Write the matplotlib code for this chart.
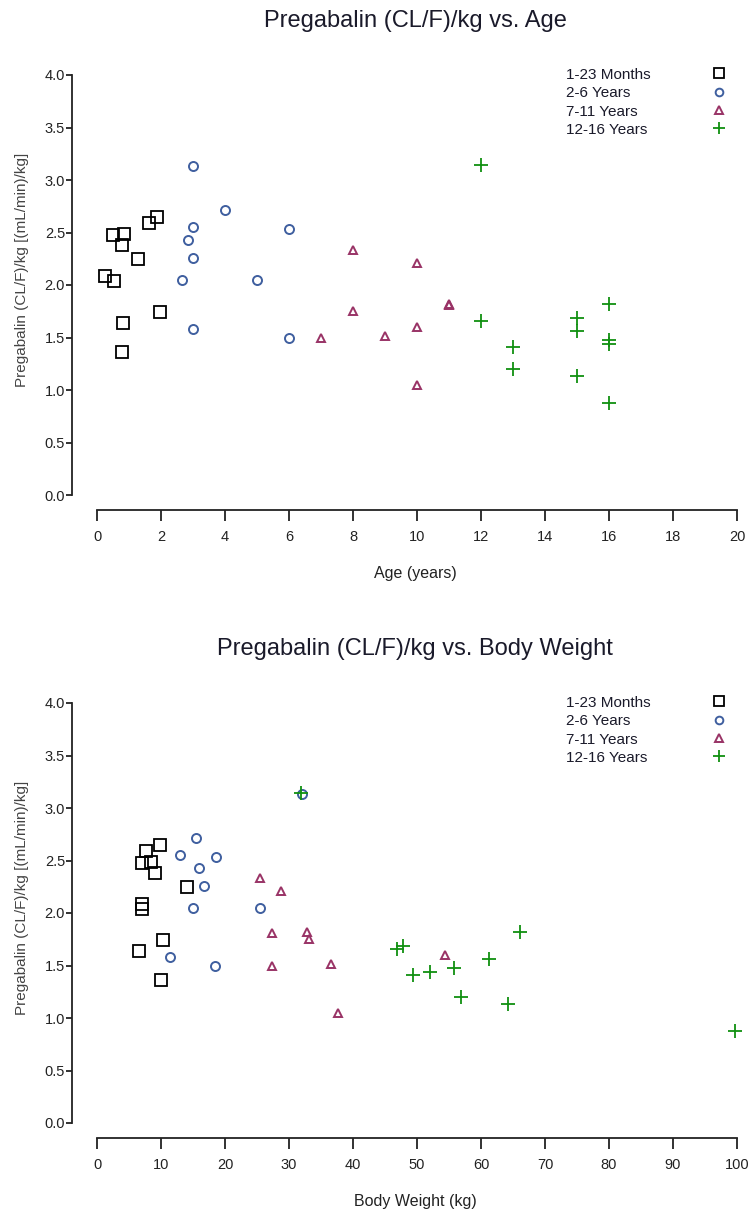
"""Pregabalin (CL/F)/kg vs. age and body weight, two stacked scatter panels."""
import matplotlib
matplotlib.use('Agg')
import matplotlib.pyplot as plt

plt.rcParams['font.family'] = ['Liberation Sans', 'DejaVu Sans']

# ---- data (one entry per subject) ----
groups = ['1-23 Months', '2-6 Years', '7-11 Years', '12-16 Years']

age_1 = [0.50, 0.83, 0.78, 1.63, 1.86, 1.28, 0.25, 0.54, 1.96, 0.82, 0.78]
wt_1 = [7.0, 8.4, 9.0, 7.6, 9.8, 14.1, 7.0, 7.0, 10.3, 6.6, 10.0]
cl_1 = [2.48, 2.49, 2.38, 2.59, 2.65, 2.25, 2.09, 2.04, 1.74, 1.64, 1.36]

age_2 = [3.0, 4.0, 3.0, 6.0, 2.83, 3.0, 2.67, 5.0, 3.0, 6.0]
wt_2 = [32.0, 15.5, 12.9, 18.6, 16.0, 16.7, 15.0, 25.4, 11.4, 18.4]
cl_2 = [3.13, 2.71, 2.55, 2.53, 2.43, 2.26, 2.05, 2.05, 1.58, 1.50]

age_3 = [8, 10, 11, 11, 8, 7, 9, 10, 10]
wt_3 = [25.5, 28.8, 27.3, 32.8, 33.1, 27.3, 36.5, 54.3, 37.7]
cl_3 = [2.33, 2.21, 1.81, 1.82, 1.75, 1.50, 1.51, 1.60, 1.05]

age_4 = [12, 12, 15, 15, 16, 16, 13, 13, 15, 16, 16]
wt_4 = [31.8, 46.9, 47.8, 61.3, 55.8, 52.1, 49.4, 56.8, 64.2, 66.1, 99.7]
cl_4 = [3.14, 1.66, 1.69, 1.56, 1.48, 1.44, 1.41, 1.20, 1.13, 1.82, 0.88]

ages = [age_1, age_2, age_3, age_4]
weights = [wt_1, wt_2, wt_3, wt_4]
clears = [cl_1, cl_2, cl_3, cl_4]

# marker styles per group
styles = [
    dict(marker='s', ms=8.5, mec='black', mfc='none', mew=1.3),
    dict(marker='o', ms=6.5, mec='#3f5f9f', mfc='none', mew=1.4),
    dict(marker='^', ms=6.0, mec='#993366', mfc='none', mew=1.4),
    dict(marker='+', ms=9.5, mec='#109010', mfc='none', mew=1.3),
]

fig = plt.figure(figsize=(7.49, 12.13), dpi=100)
W, H = 749, 1213


def add_panel(top_px, xdata, xmax, xstep, title, xlabel):
    ax = fig.add_axes([97 / W, (H - top_px - 420) / H, 640 / W, 420 / H])
    for xs, ys, st in zip(xdata, clears, styles):
        ax.plot(xs, ys, ls='none', clip_on=False, **st)

    ax.set_xlim(0, xmax)
    ax.set_ylim(0, 4)
    ax.set_xticks(range(0, xmax + 1, xstep))
    ax.set_yticks([0, 0.5, 1.0, 1.5, 2.0, 2.5, 3.0, 3.5, 4.0])
    ax.set_yticklabels(['0.0', '0.5', '1.0', '1.5', '2.0', '2.5', '3.0', '3.5', '4.0'])

    for s in ['top', 'right']:
        ax.spines[s].set_visible(False)
    ax.spines['left'].set_position(('outward', 18))
    ax.spines['bottom'].set_position(('outward', 10.5))
    ax.spines['left'].set_bounds(0, 4)
    ax.spines['bottom'].set_bounds(0, xmax)
    for s in ['left', 'bottom']:
        ax.spines[s].set_linewidth(1.3)
        ax.spines[s].set_color('#222222')

    ax.tick_params(axis='x', length=8, width=1.3, pad=6.5, labelsize=10.5,
                   color='#222222', labelcolor='#222222')
    ax.tick_params(axis='y', length=4.5, width=1.3, pad=0.5, labelsize=10.5,
                   color='#222222', labelcolor='#222222')

    ax.text(0.497, 1.115, title, transform=ax.transAxes, ha='center',
            va='baseline', fontsize=17, color='#1a1a2a')
    ax.set_xlabel(xlabel, fontsize=11.5, color='#222222')
    ax.xaxis.set_label_coords(0.497, -0.168)
    ax.set_ylabel('Pregabalin (CL/F)/kg [(mL/min)/kg]', fontsize=11,
                  color='#444444')
    ax.yaxis.set_label_coords(-0.107, 0.536)

    # legend: text on the left, symbol on the right
    text_y = [1.0, 0.956, 0.912, 0.869]
    mark_y = [1.004, 0.959, 0.917, 0.873]
    for lab, ty, my, st in zip(groups, text_y, mark_y, styles):
        ax.text(0.733, ty, lab, transform=ax.transAxes, ha='left',
                va='center', fontsize=11, color='#1a1a2a')
        small = dict(st)
        small['ms'] = st['ms'] * 0.85
        ax.plot([0.972], [my], transform=ax.transAxes, ls='none',
                clip_on=False, **small)
    return ax


add_panel(75, ages, 20, 2, 'Pregabalin (CL/F)/kg vs. Age', 'Age (years)')
add_panel(703, weights, 100, 10, 'Pregabalin (CL/F)/kg vs. Body Weight',
          'Body Weight (kg)')

fig.savefig('out.png', dpi=100, facecolor='white')
print('OK: out.png')
